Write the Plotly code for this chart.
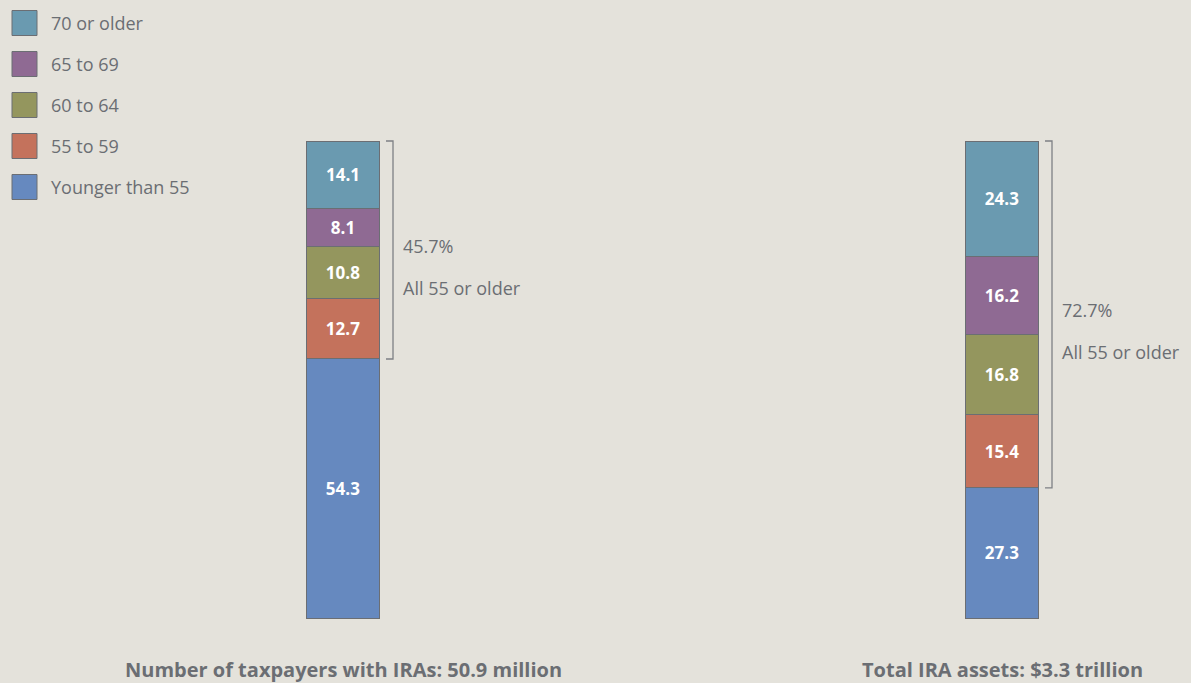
import plotly.graph_objects as go

# ---- data ----
groups = ["Number of taxpayers with IRAs: 50.9 million", "Total IRA assets: $3.3 trillion"]
age_bands = ["Younger than 55", "55 to 59", "60 to 64", "65 to 69", "70 or older"]
younger_55 = [54.3, 27.3]
age_55_59 = [12.7, 15.4]
age_60_64 = [10.8, 16.8]
age_65_69 = [8.1, 16.2]
age_70_plus = [14.1, 24.3]
share_55_plus = ["45.7%", "72.7%"]
bracket_text = "All 55 or older"

series = [younger_55, age_55_59, age_60_64, age_65_69, age_70_plus]
colors = ["#6689bf", "#c4725c", "#94965e", "#8f6a93", "#6a9ab0"]

BG = "#e4e2db"
TXT = "#6b6e73"
FONT = "Open Sans"

W, H = 1191, 683
xs = [0, 1]
fig = go.Figure()
for name, vals, col in zip(age_bands, series, colors):
    fig.add_trace(go.Bar(
        x=xs, y=vals, name=name, width=0.1093,
        marker=dict(color=col, line=dict(color="#6b6e73", width=1)),
        text=[f"{v:.1f}" for v in vals], textposition="inside",
        insidetextanchor="middle", textangle=0,
        textfont=dict(color="white", size=17, family=FONT, weight="bold"),
        showlegend=False, hoverinfo="skip",
    ))

# axes mapping: x index 0 -> px 343, 1 -> px 1002 ; y 0 -> px 618, 100 -> px 141
xscale = 1002 - 343
xr = [-343 / xscale, (W - 343) / xscale]
yscale = (618 - 141) / 100
yr = [-(H - 618) / yscale, 100 + 141 / yscale]

shapes = []
annotations = []
# brackets over 55+ segments
for i in xs:
    low = younger_55[i]
    top = low + age_55_59[i] + age_60_64[i] + age_65_69[i] + age_70_plus[i]
    xb = i + 50 / xscale
    xt = i + 43 / xscale
    shapes.append(dict(type="path", xref="x", yref="y",
                       path=f"M {xt} {top} L {xb} {top} L {xb} {low} L {xt} {low}",
                       line=dict(color="#7d8085", width=1.3)))
    mid = (top + low) / 2
    annotations.append(dict(x=i + 58 / xscale, y=mid + 4 / yscale, xref="x", yref="y",
                            text=share_55_plus[i], showarrow=False, xanchor="left",
                            yanchor="middle", font=dict(size=18, color=TXT, family=FONT)))
    annotations.append(dict(x=i + 58 / xscale, y=mid - 38 / yscale, xref="x", yref="y",
                            text=bracket_text, showarrow=False, xanchor="left",
                            yanchor="middle", font=dict(size=18, color=TXT, family=FONT)))
    annotations.append(dict(x=i, y=-(669 - 618) / yscale, xref="x", yref="y",
                            text=groups[i], showarrow=False, xanchor="center",
                            yanchor="middle",
                            font=dict(size=20, color=TXT, family=FONT, weight="bold")))

# custom legend (top-left), top item = last series
for k, (name, col) in enumerate(zip(age_bands[::-1], colors[::-1])):
    yc = 23 + k * 41
    shapes.append(dict(type="rect", xref="paper", yref="paper",
                       x0=12 / W, x1=37 / W, y0=1 - (yc - 12.5) / H, y1=1 - (yc + 12.5) / H,
                       fillcolor=col, line=dict(color="#6b6e73", width=1)))
    annotations.append(dict(x=49 / W, y=1 - yc / H, xref="paper", yref="paper",
                            text=name, showarrow=False, xanchor="left", yanchor="middle",
                            font=dict(size=18, color=TXT, family=FONT)))

fig.update_layout(
    width=W, height=H, barmode="stack",
    paper_bgcolor=BG, plot_bgcolor=BG,
    margin=dict(l=0, r=0, t=0, b=0),
    xaxis=dict(range=xr, visible=False, fixedrange=True),
    yaxis=dict(range=yr, visible=False, fixedrange=True),
    shapes=shapes, annotations=annotations,
    uniformtext=dict(minsize=8, mode="show"),
)
fig.write_html("out.html")
